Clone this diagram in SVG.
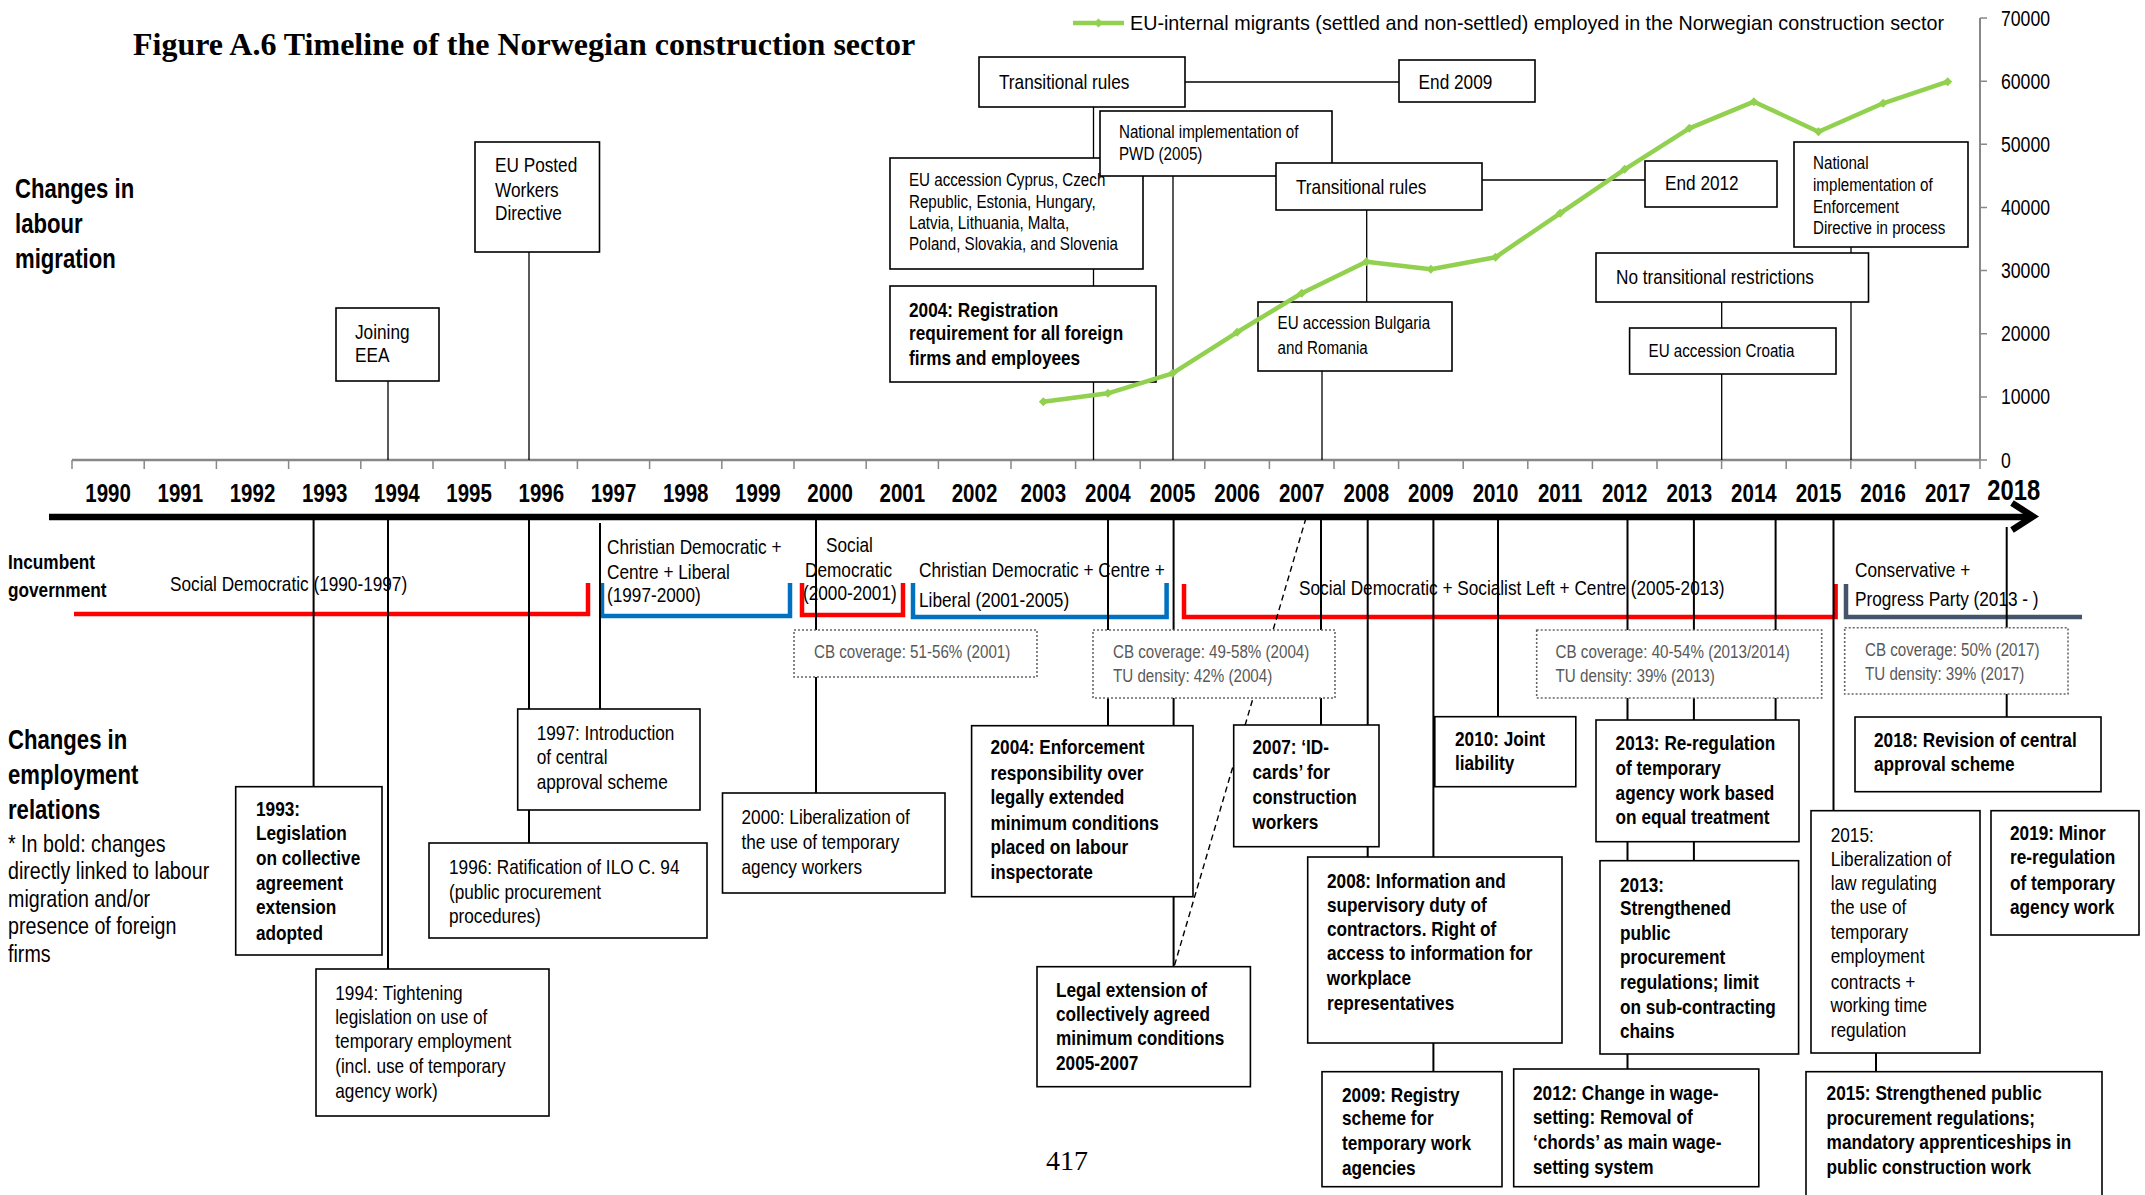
<svg xmlns="http://www.w3.org/2000/svg" width="2145" height="1195" viewBox="0 0 2145 1195">
<defs>
<style>
text{font-family:'Liberation Sans',Arial,sans-serif;font-size:21px;fill:#000;transform-box:fill-box;transform-origin:0 50%;transform:scaleX(0.82)}
text.serif{font-family:'Liberation Serif','Times New Roman',serif;transform:none}
text.full{transform:none}
.b{font-weight:bold}
.s{font-size:18.5px}
.yr{font-weight:bold;font-size:25px;text-anchor:middle;transform-origin:50% 50%}
.hd{font-weight:bold;font-size:27px}
.fn{font-size:24px}
.cbt{font-size:18.5px;fill:#595959}
.box{fill:#fff;stroke:#000;stroke-width:1.6}
.cb{fill:#fff;stroke:#666;stroke-width:1.6;stroke-dasharray:2 2}
.ln{stroke:#000;stroke-width:1.3;fill:none}
.ln2{stroke:#000;stroke-width:2;fill:none}
.gov{fill:none;stroke-width:4.5}
.ax{font-size:21.5px}
</style>
<marker id="dm" viewBox="-5 -5 10 10" markerWidth="10" markerHeight="10" markerUnits="userSpaceOnUse"><path d="M0 -4.5 L4.5 0 L0 4.5 L-4.5 0 Z" fill="#92D050"/></marker>
</defs>
<rect width="2145" height="1195" fill="#fff"/>

<text class="serif" x="133" y="55" style="font-weight:bold;font-size:32px">Figure A.6 Timeline of the Norwegian construction sector</text>

<g id="side-labels">
<text class="hd" x="15" y="198">Changes in</text>
<text class="hd" x="15" y="233">labour</text>
<text class="hd" x="15" y="268">migration</text>
<text class="b" x="8" y="569">Incumbent</text>
<text class="b" x="8" y="597">government</text>
<text class="hd" x="8" y="749">Changes in</text>
<text class="hd" x="8" y="784">employment</text>
<text class="hd" x="8" y="819">relations</text>
<text class="fn" x="8" y="852">* In bold: changes</text>
<text class="fn" x="8" y="879">directly linked to labour</text>
<text class="fn" x="8" y="907">migration and/or</text>
<text class="fn" x="8" y="934">presence of foreign</text>
<text class="fn" x="8" y="962">firms</text>
</g>

<g id="chart-axes">
<line x1="1980" y1="18" x2="1980" y2="460" stroke="#888" stroke-width="2"/>
<path d="M1980 18h7M1980 81.2h7M1980 144.3h7M1980 207.4h7M1980 270.6h7M1980 333.7h7M1980 396.9h7M1980 460h7" stroke="#888" stroke-width="1.5"/>
<text class="ax" x="2001" y="26">70000</text>
<text class="ax" x="2001" y="89">60000</text>
<text class="ax" x="2001" y="152">50000</text>
<text class="ax" x="2001" y="215">40000</text>
<text class="ax" x="2001" y="278">30000</text>
<text class="ax" x="2001" y="341">20000</text>
<text class="ax" x="2001" y="404">10000</text>
<text class="ax" x="2001" y="468">0</text>
<line x1="72" y1="460" x2="1980" y2="460" stroke="#888" stroke-width="2.5"/>
<path d="M72 460v9M144.2 460v9M216.4 460v9M288.6 460v9M360.8 460v9M433 460v9M505.2 460v9M577.4 460v9M649.6 460v9M721.8 460v9M794 460v9M866.2 460v9M938.4 460v9M1011 460v9M1075.6 460v9M1140.2 460v9M1204.8 460v9M1269.4 460v9M1334 460v9M1398.6 460v9M1463.2 460v9M1527.8 460v9M1592.4 460v9M1657 460v9M1721.6 460v9M1786.2 460v9M1850.8 460v9M1915.4 460v9M1980 460v9" stroke="#888" stroke-width="1.5"/>
</g>

<g id="connectors">
<line class="ln" x1="388" y1="381" x2="388" y2="460"/>
<line class="ln" x1="529" y1="252" x2="529" y2="460"/>
<line class="ln" x1="1185" y1="82" x2="1399" y2="82"/>
<line class="ln" x1="1093.5" y1="107" x2="1093.5" y2="460"/>
<line class="ln" x1="1173" y1="176" x2="1173" y2="460"/>
<line class="ln" x1="1482" y1="180" x2="1645" y2="180"/>
<line class="ln" x1="1366.7" y1="210" x2="1366.7" y2="302"/>
<line class="ln" x1="1322" y1="371" x2="1322" y2="460"/>
<line class="ln" x1="1851" y1="247" x2="1851" y2="460"/>
<line class="ln" x1="1721.7" y1="302" x2="1721.7" y2="328"/>
<line class="ln" x1="1721.7" y1="374" x2="1721.7" y2="460"/>
</g>

<g id="migration-boxes">
<g id="n-eea"><rect class="box" x="336" y="308" width="103" height="73"/><text x="355" y="339">Joining</text><text x="355" y="362">EEA</text></g>
<g id="n-pwd-dir"><rect class="box" x="475" y="142" width="124.5" height="110"/><text x="495" y="172">EU Posted</text><text x="495" y="197">Workers</text><text x="495" y="220">Directive</text></g>
<g id="n-trans1"><rect class="box" x="979" y="57" width="206" height="50"/><text x="999" y="89">Transitional rules</text></g>
<g id="n-end2009"><rect class="box" x="1399" y="60" width="136" height="42"/><text x="1418.6" y="89">End 2009</text></g>
<g id="n-cyprus"><rect class="box" x="890" y="158" width="253" height="111"/><text class="s" x="909" y="186.5">EU accession Cyprus, Czech</text><text class="s" x="909" y="208.5">Republic, Estonia, Hungary,</text><text class="s" x="909" y="229.5">Latvia, Lithuania, Malta,</text><text class="s" x="909" y="250.5">Poland, Slovakia, and Slovenia</text></g>
<g id="n-reg2004"><rect class="box" x="890" y="286" width="266" height="96"/><text class="b" x="909" y="317">2004: Registration</text><text class="b" x="909" y="340">requirement for all foreign</text><text class="b" x="909" y="365">firms and employees</text></g>
<g id="n-pwd"><rect class="box" x="1100" y="111" width="232" height="65"/><text class="s" x="1119" y="138.5">National implementation of</text><text class="s" x="1119" y="160.5">PWD (2005)</text></g>
<g id="n-trans2"><rect class="box" x="1276" y="163" width="206" height="47"/><text x="1296" y="194">Transitional rules</text></g>
<g id="n-end2012"><rect class="box" x="1645" y="161" width="132" height="46"/><text x="1665" y="190">End 2012</text></g>
<g id="n-bulgaria"><rect class="box" x="1258" y="302" width="194" height="69"/><text class="s" x="1277.6" y="329.5">EU accession Bulgaria</text><text class="s" x="1277.6" y="354.5">and Romania</text></g>
<g id="n-enforce"><rect class="box" x="1794" y="142" width="174" height="105"/><text class="s" x="1813" y="169.5">National</text><text class="s" x="1813" y="191.5">implementation of</text><text class="s" x="1813" y="213.5">Enforcement</text><text class="s" x="1813" y="234.5">Directive in process</text></g>
<g id="n-notrans"><rect class="box" x="1596" y="253" width="272.5" height="49"/><text x="1616" y="284">No transitional restrictions</text></g>
<g id="n-croatia"><rect class="box" x="1629.6" y="328" width="206.4" height="46"/><text class="s" x="1648.6" y="357.5">EU accession Croatia</text></g>
</g>

<g id="series">
<polyline points="1043.3,401.7 1107.9,393.3 1172.5,373.3 1237.1,332.3 1301.7,293.3 1366.3,261.7 1430.9,269.3 1495.5,257.3 1560.1,213.3 1624.7,169.3 1689.3,128.3 1753.9,101.7 1818.5,131.7 1883.1,103.3 1947.7,81.7" fill="none" stroke="#92D050" stroke-width="4.5" stroke-linejoin="round" marker-start="url(#dm)" marker-mid="url(#dm)" marker-end="url(#dm)"/>
<polyline points="1073,23 1098.5,23 1124,23" fill="none" stroke="#92D050" stroke-width="4.5" marker-mid="url(#dm)"/>
<text class="full" x="1130" y="30" textLength="814" lengthAdjust="spacingAndGlyphs">EU-internal migrants (settled and non-settled) employed in the Norwegian construction sector</text>
</g>

<g id="years">
<text class="yr" x="108.1" y="502">1990</text>
<text class="yr" x="180.3" y="502">1991</text>
<text class="yr" x="252.5" y="502">1992</text>
<text class="yr" x="324.7" y="502">1993</text>
<text class="yr" x="396.9" y="502">1994</text>
<text class="yr" x="469.1" y="502">1995</text>
<text class="yr" x="541.3" y="502">1996</text>
<text class="yr" x="613.5" y="502">1997</text>
<text class="yr" x="685.7" y="502">1998</text>
<text class="yr" x="757.9" y="502">1999</text>
<text class="yr" x="830.1" y="502">2000</text>
<text class="yr" x="902.3" y="502">2001</text>
<text class="yr" x="974.5" y="502">2002</text>
<text class="yr" x="1043.3" y="502">2003</text>
<text class="yr" x="1107.9" y="502">2004</text>
<text class="yr" x="1172.5" y="502">2005</text>
<text class="yr" x="1237.1" y="502">2006</text>
<text class="yr" x="1301.7" y="502">2007</text>
<text class="yr" x="1366.3" y="502">2008</text>
<text class="yr" x="1430.9" y="502">2009</text>
<text class="yr" x="1495.5" y="502">2010</text>
<text class="yr" x="1560.1" y="502">2011</text>
<text class="yr" x="1624.7" y="502">2012</text>
<text class="yr" x="1689.3" y="502">2013</text>
<text class="yr" x="1753.9" y="502">2014</text>
<text class="yr" x="1818.5" y="502">2015</text>
<text class="yr" x="1883.1" y="502">2016</text>
<text class="yr" x="1947.7" y="502">2017</text>
<text class="yr" x="2013.7" y="500" style="font-size:29px">2018</text>
</g>

<g id="timeline-arrow">
<line x1="49" y1="517" x2="2030" y2="517" stroke="#000" stroke-width="6.5"/>
<polyline points="2012,503 2033,516.5 2012,530" fill="none" stroke="#000" stroke-width="6.5"/>
</g>

<g id="government">
<path class="gov" d="M74 614H588V583" stroke="#FF0000"/>
<path class="gov" d="M602 583V616H790V583" stroke="#0070C0"/>
<path class="gov" d="M802 583V615H903V583" stroke="#FF0000"/>
<path class="gov" d="M913 583V617H1166.6V583" stroke="#0070C0"/>
<path class="gov" d="M1184 584V617H1835.6V584" stroke="#FF0000"/>
<path class="gov" d="M1846 584V617H2082" stroke="#44546A"/>
<text x="170" y="591">Social Democratic (1990-1997)</text>
<text x="607" y="554">Christian Democratic +</text>
<text x="607" y="579">Centre + Liberal</text>
<text x="607" y="602">(1997-2000)</text>
<text x="826" y="552">Social</text>
<text x="805" y="577">Democratic</text>
<text x="803" y="600">(2000-2001)</text>
<text x="919" y="577">Christian Democratic + Centre +</text>
<text x="919" y="607">Liberal (2001-2005)</text>
<text x="1299" y="595">Social Democratic + Socialist Left + Centre (2005-2013)</text>
<text x="1855" y="577">Conservative +</text>
<text x="1855" y="606">Progress Party (2013 - )</text>
</g>

<g id="lower-connectors">
<line class="ln2" x1="313.6" y1="520" x2="313.6" y2="786.7"/>
<line class="ln2" x1="388" y1="520" x2="388" y2="969"/>
<line class="ln2" x1="529" y1="520" x2="529" y2="843"/>
<line class="ln2" x1="600" y1="523" x2="600" y2="709"/>
<line class="ln2" x1="816" y1="520" x2="816" y2="793"/>
<line class="ln2" x1="1108" y1="520" x2="1108" y2="725.7"/>
<line class="ln2" x1="1173.6" y1="520" x2="1173.6" y2="967"/>
<line class="ln2" x1="1321" y1="520" x2="1321" y2="725"/>
<line class="ln2" x1="1367.7" y1="520" x2="1367.7" y2="857"/>
<line class="ln2" x1="1433.4" y1="520" x2="1433.4" y2="1071.7"/>
<line class="ln2" x1="1498" y1="520" x2="1498" y2="716.7"/>
<line class="ln2" x1="1627.5" y1="520" x2="1627.5" y2="1069"/>
<line class="ln2" x1="1693.9" y1="520" x2="1693.9" y2="860.7"/>
<line class="ln2" x1="1775.6" y1="520" x2="1775.6" y2="720"/>
<line class="ln2" x1="1833.5" y1="520" x2="1833.5" y2="810.7"/>
<line class="ln2" x1="1876" y1="1053" x2="1876" y2="1071.7"/>
<line class="ln2" x1="2006.7" y1="527" x2="2006.7" y2="717"/>
<line x1="1306" y1="518" x2="1174" y2="967" stroke="#000" stroke-width="1.4" stroke-dasharray="6 4"/>
</g>

<g id="cb-boxes">
<g id="cb2001"><rect class="cb" x="794" y="630" width="243" height="47"/><text class="cbt" x="814" y="658.5">CB coverage: 51-56% (2001)</text></g>
<g id="cb2004"><rect class="cb" x="1093" y="630" width="242" height="68"/><text class="cbt" x="1113" y="658.5">CB coverage: 49-58% (2004)</text><text class="cbt" x="1113" y="682.5">TU density: 42% (2004)</text></g>
<g id="cb2013"><rect class="cb" x="1536.7" y="630" width="285" height="68"/><text class="cbt" x="1555.6" y="658.5">CB coverage: 40-54% (2013/2014)</text><text class="cbt" x="1555.6" y="682.5">TU density: 39% (2013)</text></g>
<g id="cb2017"><rect class="cb" x="1844.7" y="627.7" width="223.3" height="66.3"/><text class="cbt" x="1865" y="656.5">CB coverage: 50% (2017)</text><text class="cbt" x="1865" y="680.5">TU density: 39% (2017)</text></g>
</g>

<g id="employment-boxes">
<g id="e1993"><rect class="box" x="235.7" y="786.7" width="146.3" height="168.3"/><text class="b" x="256" y="816">1993:</text><text class="b" x="256" y="840">Legislation</text><text class="b" x="256" y="865">on collective</text><text class="b" x="256" y="890">agreement</text><text class="b" x="256" y="914">extension</text><text class="b" x="256" y="940">adopted</text></g>
<g id="e1994"><rect class="box" x="316" y="969" width="233" height="147"/><text x="335.3" y="1000">1994: Tightening</text><text x="335.3" y="1024">legislation on use of</text><text x="335.3" y="1048">temporary employment</text><text x="335.3" y="1073">(incl. use of temporary</text><text x="335.3" y="1098">agency work)</text></g>
<g id="e1996"><rect class="box" x="429" y="843" width="278" height="95"/><text x="449" y="874">1996: Ratification of ILO C. 94</text><text x="449" y="899">(public procurement</text><text x="449" y="923">procedures)</text></g>
<g id="e1997"><rect class="box" x="517.7" y="709" width="182.3" height="101"/><text x="536.7" y="740">1997: Introduction</text><text x="536.7" y="764">of central</text><text x="536.7" y="789">approval scheme</text></g>
<g id="e2000"><rect class="box" x="722.5" y="793" width="222.5" height="100"/><text x="741.5" y="824">2000: Liberalization of</text><text x="741.5" y="849">the use of temporary</text><text x="741.5" y="874">agency workers</text></g>
<g id="e2004"><rect class="box" x="971.6" y="725.7" width="221.4" height="171"/><text class="b" x="990.5" y="754">2004: Enforcement</text><text class="b" x="990.5" y="780">responsibility over</text><text class="b" x="990.5" y="804">legally extended</text><text class="b" x="990.5" y="830">minimum conditions</text><text class="b" x="990.5" y="854">placed on labour</text><text class="b" x="990.5" y="879">inspectorate</text></g>
<g id="e-legal"><rect class="box" x="1037" y="966.7" width="213.4" height="120"/><text class="b" x="1056" y="997">Legal extension of</text><text class="b" x="1056" y="1021">collectively agreed</text><text class="b" x="1056" y="1045">minimum conditions</text><text class="b" x="1056" y="1070">2005-2007</text></g>
<g id="e2007"><rect class="box" x="1233.7" y="725" width="145.3" height="121.7"/><text class="b" x="1252.5" y="754">2007: ‘ID-</text><text class="b" x="1252.5" y="779">cards’ for</text><text class="b" x="1252.5" y="804">construction</text><text class="b" x="1252.5" y="829">workers</text></g>
<g id="e2008"><rect class="box" x="1307.7" y="857" width="254.3" height="186"/><text class="b" x="1327" y="888">2008: Information and</text><text class="b" x="1327" y="912">supervisory duty of</text><text class="b" x="1327" y="936">contractors. Right of</text><text class="b" x="1327" y="960">access to information for</text><text class="b" x="1327" y="985">workplace</text><text class="b" x="1327" y="1010">representatives</text></g>
<g id="e2010"><rect class="box" x="1434.8" y="716.7" width="141" height="70"/><text class="b" x="1455" y="746">2010: Joint</text><text class="b" x="1455" y="770">liability</text></g>
<g id="e2009"><rect class="box" x="1322" y="1071.7" width="180" height="115"/><text class="b" x="1342" y="1102">2009: Registry</text><text class="b" x="1342" y="1125">scheme for</text><text class="b" x="1342" y="1150">temporary work</text><text class="b" x="1342" y="1175">agencies</text></g>
<g id="e2012"><rect class="box" x="1513.7" y="1069" width="245.1" height="117.7"/><text class="b" x="1533" y="1100">2012: Change in wage-</text><text class="b" x="1533" y="1124">setting: Removal of</text><text class="b" x="1533" y="1149">‘chords’ as main wage-</text><text class="b" x="1533" y="1174">setting system</text></g>
<g id="e2013a"><rect class="box" x="1596" y="720" width="203" height="121.7"/><text class="b" x="1615.6" y="750">2013: Re-regulation</text><text class="b" x="1615.6" y="775">of temporary</text><text class="b" x="1615.6" y="800">agency work based</text><text class="b" x="1615.6" y="824">on equal treatment</text></g>
<g id="e2013b"><rect class="box" x="1600" y="860.7" width="198.6" height="193.3"/><text class="b" x="1620" y="892">2013:</text><text class="b" x="1620" y="915">Strengthened</text><text class="b" x="1620" y="940">public</text><text class="b" x="1620" y="964">procurement</text><text class="b" x="1620" y="989">regulations; limit</text><text class="b" x="1620" y="1014">on sub-contracting</text><text class="b" x="1620" y="1038">chains</text></g>
<g id="e2015a"><rect class="box" x="1811" y="810.7" width="169" height="242.3"/><text x="1830.7" y="842">2015:</text><text x="1830.7" y="866">Liberalization of</text><text x="1830.7" y="890">law regulating</text><text x="1830.7" y="914">the use of</text><text x="1830.7" y="939">temporary</text><text x="1830.7" y="963">employment</text><text x="1830.7" y="989">contracts +</text><text x="1830.7" y="1012">working time</text><text x="1830.7" y="1037">regulation</text></g>
<g id="e2015b"><rect class="box" x="1806" y="1071.7" width="296" height="140"/><text class="b" x="1826.6" y="1100">2015: Strengthened public</text><text class="b" x="1826.6" y="1125">procurement regulations;</text><text class="b" x="1826.6" y="1149">mandatory apprenticeships in</text><text class="b" x="1826.6" y="1174">public construction work</text></g>
<g id="e2018"><rect class="box" x="1855" y="717" width="246" height="74.7"/><text class="b" x="1874" y="747">2018: Revision of central</text><text class="b" x="1874" y="771">approval scheme</text></g>
<g id="e2019"><rect class="box" x="1991" y="810.7" width="148" height="124.3"/><text class="b" x="2010" y="840">2019: Minor</text><text class="b" x="2010" y="864">re-regulation</text><text class="b" x="2010" y="890">of temporary</text><text class="b" x="2010" y="914">agency work</text></g>
</g>

<text class="serif" x="1067" y="1170" text-anchor="middle" style="font-size:28px">417</text>
</svg>
